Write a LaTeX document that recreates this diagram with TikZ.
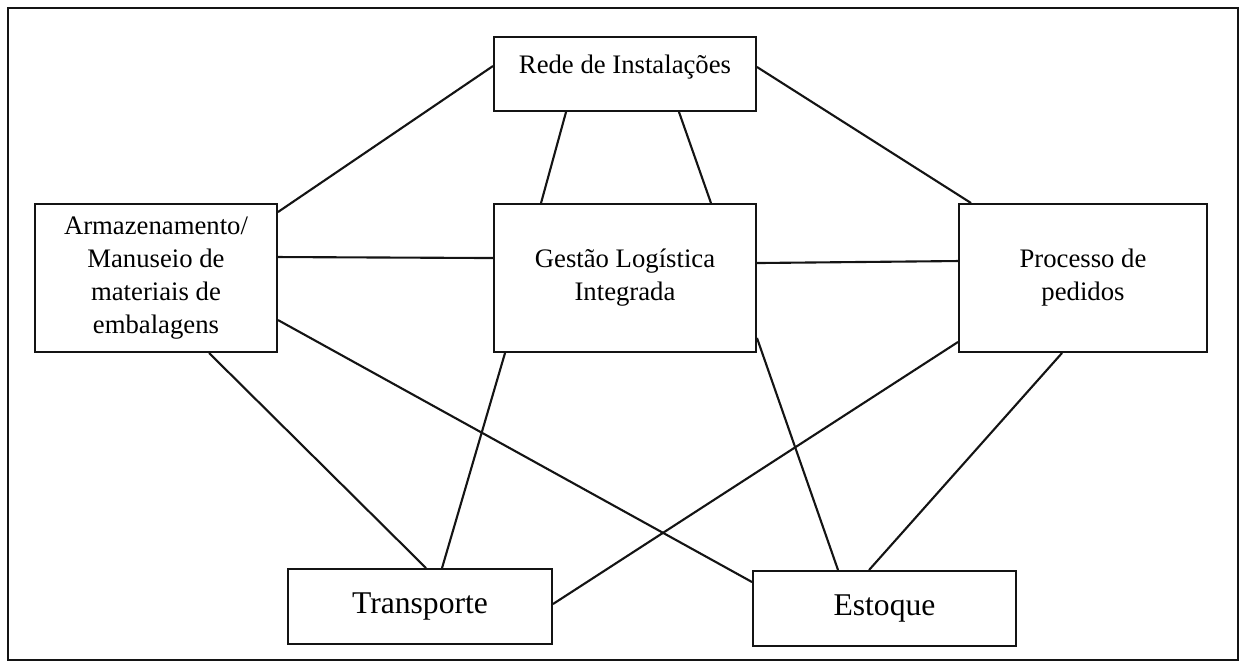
\documentclass[tikz,border=0pt]{standalone}
\usepackage{fontspec}
\setmainfont{Liberation Serif}
\usepackage{tikz}
\definecolor{myBlack}{RGB}{20,20,20}
\tikzset{
  kasten/.style={draw=myBlack, line width=1.1pt, align=center, inner sep=0pt,
    font=\fontsize{15.2}{18.8}\selectfont},
  kastenGross/.style={kasten, font=\fontsize{18}{21}\selectfont},
  verbindung/.style={draw=myBlack, line width=1.2pt}
}

\begin{document}
\begin{tikzpicture}
  \useasboundingbox (0, 0) rectangle (24.86, 13.30);
  % Rahmen
  \draw[myBlack, line width=0.8pt] (0.16, 0.10) rectangle (24.76, 13.14);
  % Kaesten
  \node[kasten, minimum width=5.24cm, minimum height=1.48cm, text height=0.4cm, text depth=0.4cm] (rede) at (12.50, 11.82) {Rede de Instalações};
  \node[kasten, minimum width=4.84cm, minimum height=2.96cm] (arm) at (3.12, 7.74) {Armazenamento/\\Manuseio de\\materiais de\\embalagens};
  \node[kasten, minimum width=5.24cm, minimum height=2.96cm] (gestao) at (12.50, 7.74) {Gestão Logística\\Integrada};
  \node[kasten, minimum width=4.96cm, minimum height=2.96cm] (proc) at (21.66, 7.74) {Processo de\\pedidos};
  \node[kastenGross, minimum width=5.28cm, minimum height=1.50cm] (trans) at (8.40, 1.17) {Transporte};
  \node[kastenGross, minimum width=5.26cm, minimum height=1.50cm] (est) at (17.69, 1.13) {Estoque};
  % Verbindungen oben
  \draw[verbindung] ([yshift=0.16cm]rede.west) -- ([yshift=-0.18cm]arm.north east);
  \draw[verbindung] ([yshift=0.14cm]rede.east) -- ([xshift=0.26cm]proc.north west);
  \draw[verbindung] ([xshift=1.46cm]rede.south west) -- ([xshift=0.96cm]gestao.north west);
  \draw[verbindung] ([xshift=-1.56cm]rede.south east) -- ([xshift=-0.92cm]gestao.north east);
  % Verbindungen mitte
  \draw[verbindung] ([yshift=-1.08cm]arm.north east) -- ([yshift=-1.10cm]gestao.north west);
  \draw[verbindung] ([yshift=-1.20cm]gestao.north east) -- ([yshift=-1.16cm]proc.north west);
  % Verbindungen unten
  \draw[verbindung] ([xshift=3.50cm]arm.south west) -- ([xshift=2.78cm]trans.north west);
  \draw[verbindung] ([yshift=-2.34cm]arm.north east) -- ([yshift=-0.24cm]est.north west);
  \draw[verbindung] ([xshift=0.24cm]gestao.south west) -- ([xshift=3.10cm]trans.north west);
  \draw[verbindung] ([yshift=0.30cm]gestao.south east) -- ([xshift=1.72cm]est.north west);
  \draw[verbindung] ([yshift=0.22cm]proc.south west) -- ([yshift=-0.72cm]trans.north east);
  \draw[verbindung] ([xshift=2.08cm]proc.south west) -- ([xshift=2.34cm]est.north west);
\end{tikzpicture}
\end{document}
